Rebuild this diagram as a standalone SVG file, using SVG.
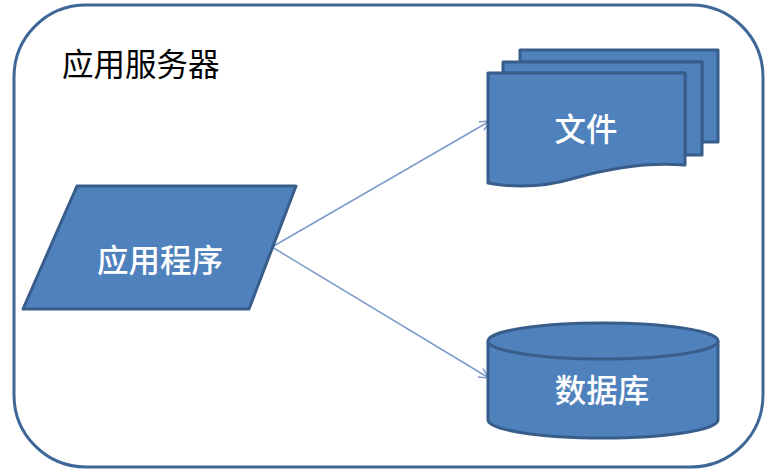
<svg xmlns="http://www.w3.org/2000/svg" width="777" height="476" viewBox="0 0 777 476">
<defs>
<style>
.shape{fill:#4f81bd;stroke:#385d8a;stroke-width:3;stroke-linejoin:round}
.lbl{fill:#ffffff;font-family:"Noto Sans CJK SC",sans-serif;font-size:31.5px;text-anchor:middle;font-weight:500}
.conn{stroke:#7c9bcb;stroke-width:1.5;fill:none}
</style>
<marker id="arr" viewBox="0 0 12 12" refX="11" refY="6" markerWidth="12" markerHeight="12" markerUnits="userSpaceOnUse" orient="auto">
<path d="M1,1 L11,6 L1,11" fill="none" stroke="#7c9bcb" stroke-width="1.5"/>
</marker>
</defs>
<rect width="777" height="476" fill="#ffffff"/>
<g id="server">
<rect x="14" y="5" width="749" height="462" rx="72" ry="72" fill="none" stroke="#3e6797" stroke-width="3"/>
<text x="62" y="76" font-family="Noto Sans CJK SC, sans-serif" font-size="31.5" fill="#000000">应用服务器</text>
</g>
<g id="connectors">
<line class="conn" x1="272" y1="247" x2="490" y2="121" marker-end="url(#arr)"/>
<line class="conn" x1="272" y1="247" x2="489" y2="378" marker-end="url(#arr)"/>
</g>
<g id="app">
<polygon class="shape" points="77,186 296,186 249,309 23,309"/>
<text class="lbl" x="160" y="272">应用程序</text>
</g>
<g id="files">
<path class="shape" d="M520,50 H718 V142 H702 V62 H520 Z"/>
<path class="shape" d="M503,62 H702 V155 H685 V73 H503 Z"/>
<path class="shape" d="M488,73 H685 V165 C650,162 610,168 575,178 C545,187 515,188 488,183 Z"/>
<text class="lbl" x="586" y="141">文件</text>
</g>
<g id="db">
<path class="shape" d="M488,341 V420 A115,18 0 0 0 718,420 V341"/>
<ellipse class="shape" cx="603" cy="341" rx="115" ry="18"/>
<text class="lbl" x="602" y="402">数据库</text>
</g>
</svg>
